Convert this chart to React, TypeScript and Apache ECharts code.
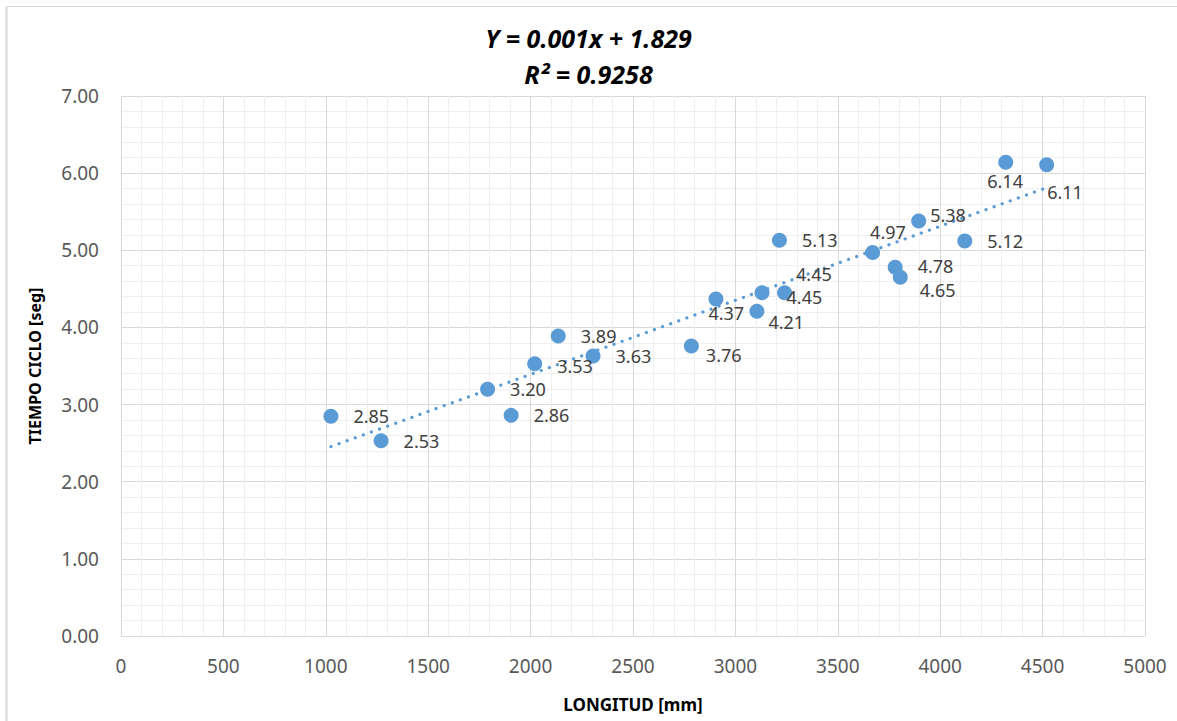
import { useEffect, useRef } from "react";
import * as echarts from "echarts";

// LONGITUD [mm]
const longitudMm = [1025, 1270, 1790, 1905, 2020, 2135, 2305, 2785, 2905, 3105, 3130, 3240, 3215, 3670, 3780, 3805, 3895, 4120, 4320, 4520];
// TIEMPO CICLO [seg]
const tiempoSeg = [2.85, 2.53, 3.2, 2.86, 3.53, 3.89, 3.63, 3.76, 4.37, 4.21, 4.45, 4.45, 5.13, 4.97, 4.78, 4.65, 5.38, 5.12, 6.14, 6.11];
// manual nudges of the data labels (px)
const labelShift = [
  [0, 0], [0, 0], [0, 0], [0, 0], [0, 2], [0, 0], [0, 0], [-8, 9], [-30, 14], [-11, 11],
  [2, 4], [-11, -19], [0, 0], [-25, -21], [0, -1], [-3, 13], [-11, -6], [0, 0], [-41, 19], [-22, 27],
];
const equationLines = ["Y = 0.001x + 1.829", "R² = 0.9258"];
const xAxisTitle = "LONGITUD [mm]";
const yAxisTitle = "TIEMPO CICLO [seg]";

const BLUE = "#5b9bd5";
const FONT = "'Noto Sans', 'DejaVu Sans', sans-serif";

function linearFit(xs: number[], ys: number[]) {
  const n = xs.length;
  let sx = 0, sy = 0, sxx = 0, sxy = 0;
  for (let i = 0; i < n; i++) {
    sx += xs[i]; sy += ys[i]; sxx += xs[i] * xs[i]; sxy += xs[i] * ys[i];
  }
  const b = (n * sxy - sx * sy) / (n * sxx - sx * sx);
  const a = (sy - b * sx) / n;
  return { a, b };
}

export default function App() {
  const ref = useRef<HTMLDivElement>(null);
  useEffect(() => {
    if (!ref.current) return;
    const chart = echarts.init(ref.current, null, { renderer: "svg" });
    const { a, b } = linearFit(longitudMm, tiempoSeg);
    const minX = Math.min(...longitudMm);
    const maxX = Math.max(...longitudMm);
    const points = longitudMm.map((x, i) => [x, tiempoSeg[i]]);
    chart.setOption({
      animation: false,
      backgroundColor: "#ffffff",
      title: {
        text: equationLines.join("\n"),
        left: "center",
        top: 15,
        textStyle: {
          fontFamily: FONT,
          fontSize: 25,
          fontWeight: "bold",
          fontStyle: "italic",
          color: "#000000",
          lineHeight: 36,
        },
      },
      graphic: [
        { type: "line", shape: { x1: 6.5, y1: 6.5, x2: 1177, y2: 6.5 }, style: { stroke: "#d9d9d9", lineWidth: 1 } },
        { type: "line", shape: { x1: 6.5, y1: 6.5, x2: 6.5, y2: 721 }, style: { stroke: "#d9d9d9", lineWidth: 2 } },
      ],
      grid: { left: 121, top: 96, width: 1024, height: 540 },
      xAxis: {
        type: "value",
        min: 0,
        max: 5000,
        interval: 500,
        name: xAxisTitle,
        nameLocation: "middle",
        nameGap: 60,
        nameTextStyle: { fontFamily: FONT, fontSize: 17, fontWeight: "bold", color: "#000000" },
        axisLine: { show: true, lineStyle: { color: "#d9d9d9", width: 1 } },
        axisTick: { show: false },
        axisLabel: {
          fontFamily: FONT,
          fontSize: 19,
          color: "#595959",
          margin: 20,
          formatter: (v: number) => String(v),
        },
        splitLine: { show: true, lineStyle: { color: "#d9d9d9", width: 1 } },
        minorTick: { show: false, splitNumber: 5 },
        minorSplitLine: { show: true, lineStyle: { color: "#efefef", width: 1 } },
      },
      yAxis: {
        type: "value",
        min: 0,
        max: 7,
        interval: 1,
        name: yAxisTitle,
        nameLocation: "middle",
        nameGap: 78,
        nameTextStyle: { fontFamily: FONT, fontSize: 16, fontWeight: "bold", color: "#000000" },
        axisLine: { show: true, lineStyle: { color: "#d9d9d9", width: 1 } },
        axisTick: { show: false },
        axisLabel: {
          fontFamily: FONT,
          fontSize: 19,
          color: "#595959",
          margin: 22,
          formatter: (v: number) => v.toFixed(2),
        },
        splitLine: { show: true, lineStyle: { color: "#d9d9d9", width: 1 } },
        minorTick: { show: false, splitNumber: 5 },
        minorSplitLine: { show: true, lineStyle: { color: "#efefef", width: 1 } },
      },
      series: [
        {
          type: "line",
          silent: true,
          symbol: "none",
          data: [
            [minX, a + b * minX],
            [maxX, a + b * maxX],
          ],
          lineStyle: { color: BLUE, width: 3.2, type: [0.1, 8.5], cap: "round" },
          z: 1,
        },
        {
          type: "scatter",
          symbol: "circle",
          symbolSize: 15,
          itemStyle: { color: BLUE, opacity: 1 },
          data: points,
          z: 3,
          label: {
            show: true,
            position: "right",
            distance: 15,
            fontFamily: FONT,
            fontSize: 18,
            color: "#404040",
            formatter: (p: any) => Number(p.value[1]).toFixed(2),
          },
          labelLayout: (params: any) => {
            const s = labelShift[params.dataIndex] || [0, 0];
            return { dx: s[0], dy: s[1], hideOverlap: false };
          },
        },
      ],
    });
    return () => chart.dispose();
  }, []);
  return (
    <div
      ref={ref}
      style={{ position: "fixed", left: 0, top: 0, width: 1177, height: 721, background: "#fff" }}
    />
  );
}
